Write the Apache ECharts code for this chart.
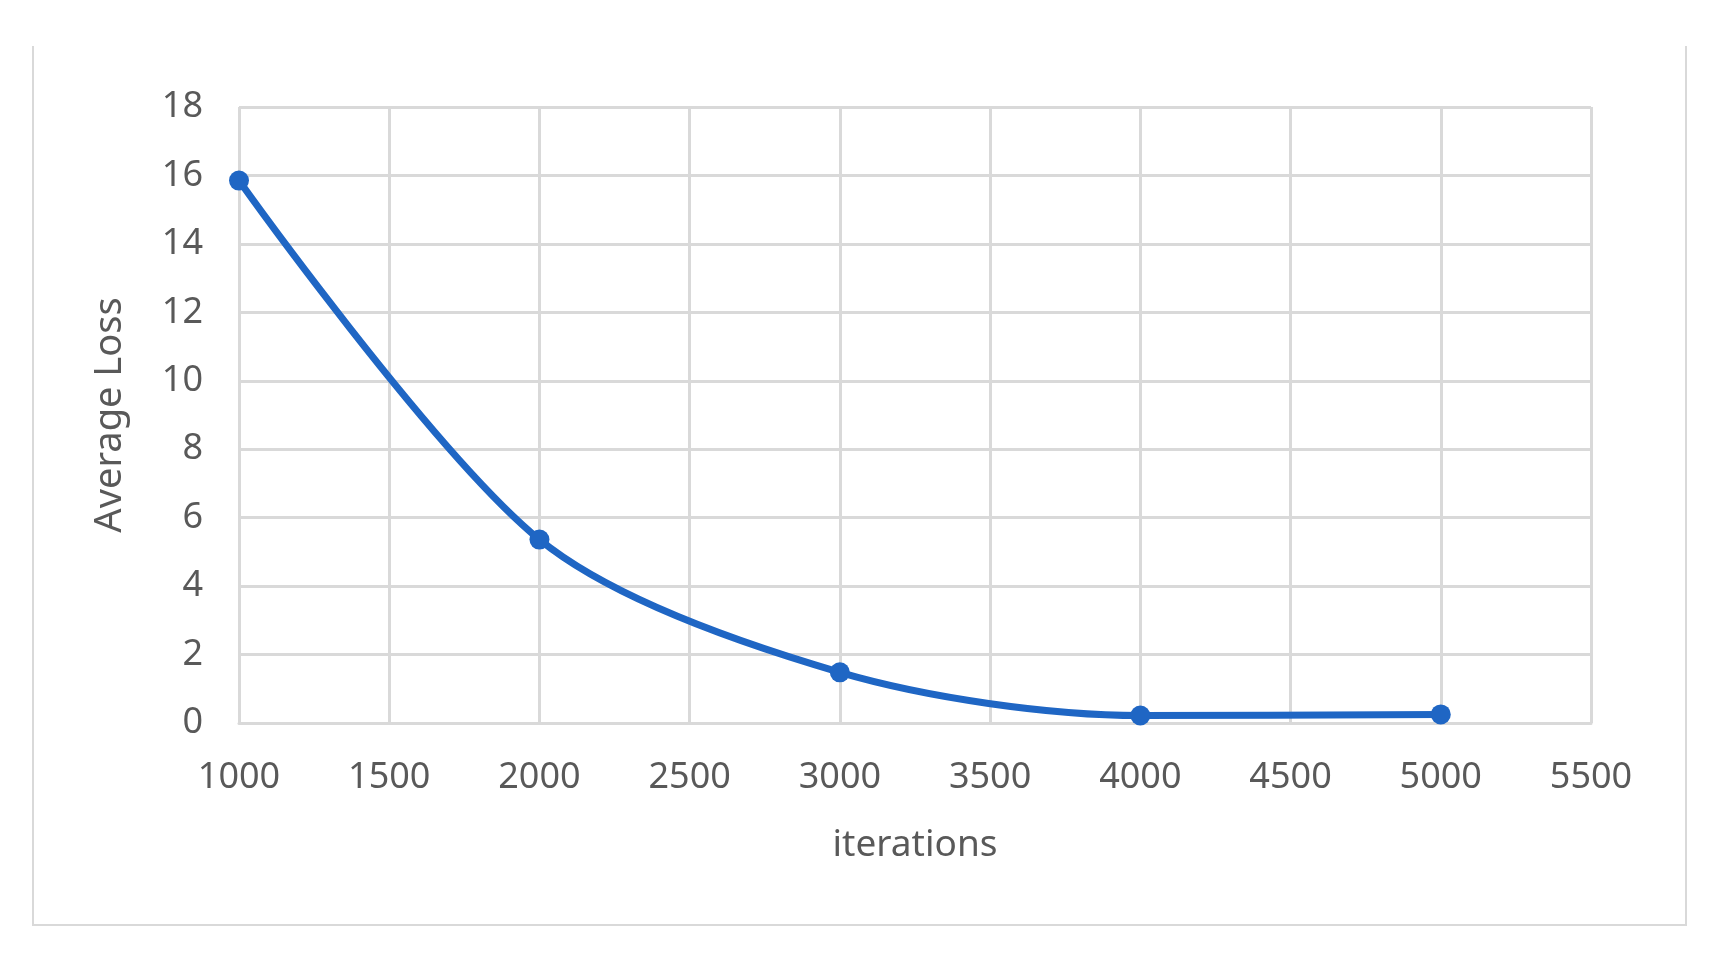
<!DOCTYPE html>
<html>
<head>
<meta charset="UTF-8">
<title>Average Loss</title>
<script type="text/javascript" src="https://cdn.jsdelivr.net/npm/echarts@6/dist/echarts.min.js"></script>
<style>
html,body{margin:0;padding:0;background:#fff;}
</style>
</head>
<body>

<div id="box" style="width:1720px;height:963px;"></div>

<script type="text/javascript">

// data
var iterations=[1000,2000,3000,4000,5000];
var avgLoss=[15.85,5.36,1.48,0.22,0.25];

var points=[];
for(var i=0;i<iterations.length;i++){
  points.push([iterations[i],avgLoss[i]]);
}

var mychart=echarts.init(document.getElementById('box'));

var textColor='#595959';
var gridColor='#d9d9d9';
var font='"Noto Sans", sans-serif';

var option={
  backgroundColor:'#fff',
  animation:false,
  grid:{left:239,right:129,top:107,bottom:240},
  //frame round the chart (top edge is cut off)
  graphic:[
    {type:'polyline',shape:{points:[[33,46],[33,925],[1686,925],[1686,46]]},
     style:{stroke:gridColor,lineWidth:2,fill:null}}
  ],
  xAxis:{
    type:'value',
    min:1000,max:5500,interval:500,
    name:'iterations',
    nameLocation:'middle',
    nameGap:104,
    nameTextStyle:{color:textColor,fontSize:37,fontFamily:font},
    axisLine:{show:true,lineStyle:{color:gridColor,width:3}},
    axisTick:{show:false},
    axisLabel:{color:textColor,fontSize:36,fontFamily:font,margin:37,
      formatter:function(v){return String(v);}},
    splitLine:{show:true,lineStyle:{color:gridColor,width:3}}
  },
  yAxis:{
    type:'value',
    min:0,max:18,interval:2,
    name:'Average Loss',
    nameLocation:'middle',
    nameGap:110,
    nameTextStyle:{color:textColor,fontSize:38,fontFamily:font},
    axisLine:{show:false},
    axisTick:{show:false},
    axisLabel:{color:textColor,fontSize:36,fontFamily:font,margin:36},
    splitLine:{show:true,lineStyle:{color:gridColor,width:3}}
  },
  series:[{
    type:'line',
    data:points,
    smooth:0.3,
    symbol:'circle',
    symbolSize:20,
    lineStyle:{color:'#1f66c4',width:7},
    itemStyle:{color:'#1f66c4'}
  }]
};

mychart.setOption(option);
</script>
</body>
</html>
